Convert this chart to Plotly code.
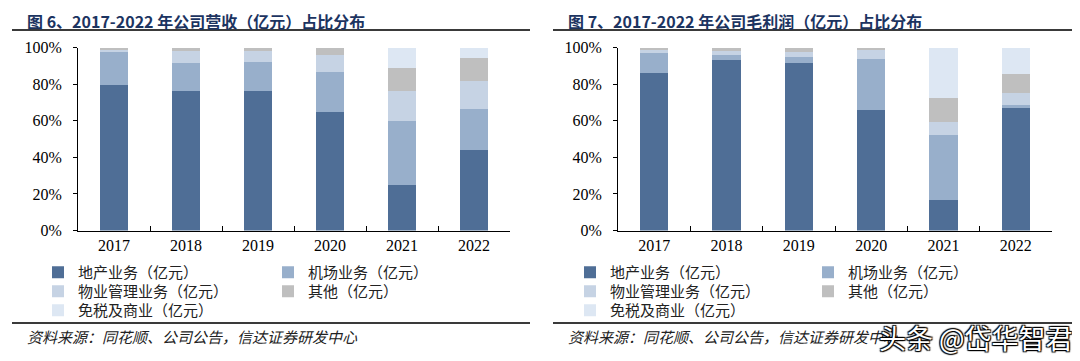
import plotly.graph_objects as go

years = ["2017", "2018", "2019", "2020", "2021", "2022"]

series_names = ["地产业务（亿元）", "机场业务（亿元）", "物业管理业务（亿元）", "其他（亿元）", "免税及商业（亿元）"]

# Revenue share (%)
rev_realestate = [79.5, 76.2, 76.2, 64.7, 24.7, 44.2]
rev_airport = [18.5, 15.4, 16.1, 21.9, 35.0, 22.3]
rev_property = [1.0, 6.8, 6.1, 9.6, 16.7, 15.2]
rev_other = [1.0, 1.6, 1.6, 3.8, 12.8, 12.6]
rev_dutyfree = [0.0, 0.0, 0.0, 0.0, 10.8, 5.7]

# Gross profit share (%)
gp_realestate = [86.4, 93.4, 91.9, 66.0, 16.9, 67.3]
gp_airport = [11.4, 2.9, 3.3, 27.7, 35.4, 1.3]
gp_property = [0.8, 2.2, 2.4, 5.3, 7.0, 6.8]
gp_other = [1.4, 1.5, 2.4, 1.0, 13.2, 10.1]
gp_dutyfree = [0.0, 0.0, 0.0, 0.0, 27.5, 14.5]

y_ticks = [0, 20, 40, 60, 80, 100]
y_tick_labels = ["0%", "20%", "40%", "60%", "80%", "100%"]

colors = ["#4f6e96", "#98afcb", "#c6d3e4", "#bfbfbf", "#dde7f3"]

title_left = "图 6、2017-2022 年公司营收（亿元）占比分布"
title_right = "图 7、2017-2022 年公司毛利润（亿元）占比分布"
source_text = "资料来源：同花顺、公司公告，信达证券研发中心"
watermark = "头条 @岱华智君"

W, H = 1080, 361
OFF = 8  # page body margin of the html page


def px_x(p):
    return (p - OFF) / W


def px_y(p):
    return 1 - (p - OFF) / H


fig = go.Figure()

rev_series = [rev_realestate, rev_airport, rev_property, rev_other, rev_dutyfree]
gp_series = [gp_realestate, gp_airport, gp_property, gp_other, gp_dutyfree]

# legend grid: (column, row) for each series
leg_col = [0, 1, 0, 1, 0]
leg_row = [0, 0, 1, 1, 2]
row_y = [272.5, 291.5, 310.5]
left_cols = [38, 268]
right_cols = [570, 808]

legfont = dict(family="Noto Sans CJK SC", size=15, color="#222")
legend_layout = {}
n = 0
for chart, series, cols, xa, ya in [("L", rev_series, left_cols, "x", "y"),
                                     ("R", gp_series, right_cols, "x2", "y2")]:
    for i, (name, vals) in enumerate(zip(series_names, series)):
        n += 1
        key = "legend" if n == 1 else f"legend{n}"
        fig.add_trace(go.Bar(x=years, y=vals, name=name, showlegend=True,
                             marker=dict(color=colors[i], line=dict(width=0)),
                             xaxis=xa, yaxis=ya, legend=key))
        legend_layout[key] = dict(x=px_x(cols[leg_col[i]]), y=px_y(row_y[leg_row[i]]),
                                  xanchor="left", yanchor="middle", orientation="v",
                                  font=legfont, bgcolor="rgba(0,0,0,0)", visible=True,
                                  itemclick=False, itemdoubleclick=False)

ydom = [px_y(230.5), px_y(47.8)]

tickfont = dict(family="Liberation Serif, Times New Roman, serif", size=16, color="#000")

xaxis_common = dict(type="category", showline=True, linecolor="#000", linewidth=1, ticks="inside",
                    ticklen=5, tickcolor="#000", tickson="boundaries", showgrid=False, tickfont=tickfont,
                    zeroline=False, fixedrange=True)
yaxis_common = dict(range=[0, 100], tickvals=y_ticks, ticktext=y_tick_labels, showline=True,
                    linecolor="#000", linewidth=1, ticks="outside", ticklen=4, tickcolor="#000",
                    showgrid=False, tickfont=tickfont, zeroline=False, ticklabelstandoff=8)

fig.update_layout(
    width=W, height=H,
    showlegend=True,
    margin=dict(l=0, r=0, t=0, b=0, autoexpand=False),
    paper_bgcolor="white", plot_bgcolor="white",
    barmode="stack", bargap=0.61,
    xaxis=dict(domain=[px_x(78), px_x(510)], anchor="y", **xaxis_common),
    yaxis=dict(domain=ydom, anchor="x", **yaxis_common),
    xaxis2=dict(domain=[px_x(618), px_x(1052)], anchor="y2", **xaxis_common),
    yaxis2=dict(domain=ydom, anchor="x2", **yaxis_common),
    **legend_layout,
)

title_font = dict(family="Noto Sans CJK SC", size=16, color="#1c3461")
src_font = dict(family="Noto Sans CJK SC", size=15, color="#222")

annotations = [
    dict(text="<b>" + title_left + "</b>", x=px_x(26), y=1, xref="paper", yref="paper",
         xanchor="left", yanchor="top", showarrow=False, font=title_font, borderpad=0),
    dict(text="<b>" + title_right + "</b>", x=px_x(567), y=1, xref="paper", yref="paper",
         xanchor="left", yanchor="top", showarrow=False, font=title_font, borderpad=0),
    dict(text="<i>" + source_text + "</i>", x=px_x(25), y=px_y(336), xref="paper", yref="paper",
         xanchor="left", yanchor="middle", showarrow=False, font=src_font),
    dict(text="<i>" + source_text + "</i>", x=px_x(566), y=px_y(336), xref="paper", yref="paper",
         xanchor="left", yanchor="middle", showarrow=False, font=src_font),
    dict(text=watermark, x=px_x(1075), y=px_y(337), xref="paper", yref="paper",
         xanchor="right", yanchor="middle", showarrow=False,
         font=dict(family="Noto Sans CJK SC", size=27, color="white",
                   shadow="1px 1px 1px #000, -1px -1px 1px #000, 1px -1px 1px #000, -1px 1px 1px #000")),
]
fig.update_layout(annotations=annotations)

line_style = dict(color="#3a3a3a", width=2)
shapes = []
for (x0, x1) in [(12, 530), (553, 1075)]:
    for yy in [30, 323]:
        shapes.append(dict(type="line", xref="paper", yref="paper", x0=px_x(x0), x1=px_x(x1),
                           y0=px_y(yy), y1=px_y(yy), line=line_style))
fig.update_layout(shapes=shapes)

fig.write_html("out.html")
